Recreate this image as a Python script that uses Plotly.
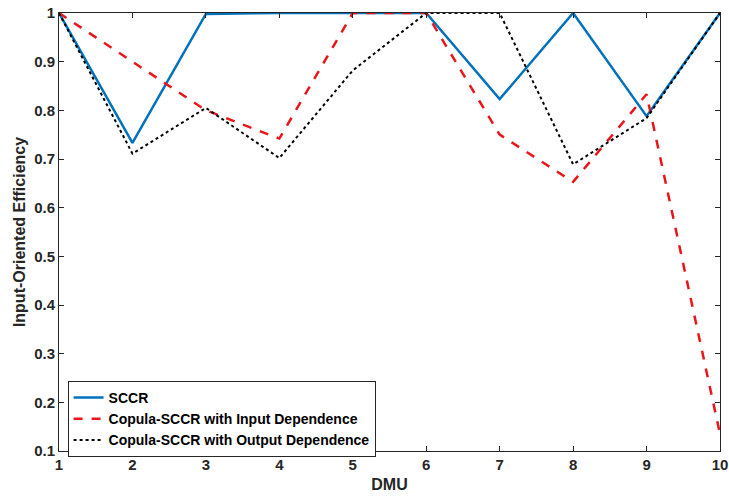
import plotly.graph_objects as go

dmu = [1, 2, 3, 4, 5, 6, 7, 8, 9, 10]
sccr = [1.0, 0.733, 0.998, 1.0, 1.0, 1.0, 0.823, 1.0, 0.788, 1.0]
copula_input = [1.0, 0.90, 0.80, 0.742, 1.0, 1.0, 0.75, 0.653, 0.833, 0.135]
copula_output = [1.0, 0.711, 0.805, 0.702, 0.882, 1.0, 1.0, 0.689, 0.784, 1.0]
y_ticks = [0.1, 0.2, 0.3, 0.4, 0.5, 0.6, 0.7, 0.8, 0.9, 1.0]
y_tick_labels = ["0.1", "0.2", "0.3", "0.4", "0.5", "0.6", "0.7", "0.8", "0.9", "1"]

font_family = "Liberation Sans, Arial, sans-serif"

fig = go.Figure()
fig.add_trace(go.Scatter(x=dmu, y=sccr, mode="lines", name="<b>SCCR</b>",
                         line=dict(color="#0072BD", width=2.5)))
fig.add_trace(go.Scatter(x=dmu, y=copula_input, mode="lines",
                         name="<b>Copula-SCCR with Input Dependence</b>",
                         line=dict(color="#E8161B", width=2.5, dash="dash")))
fig.add_trace(go.Scatter(x=dmu, y=copula_output, mode="lines",
                         name="<b>Copula-SCCR with Output Dependence</b>",
                         line=dict(color="#000000", width=2, dash="dot")))

axis_common = dict(showgrid=False, zeroline=False, showline=True, linecolor="#262626",
                   linewidth=1, mirror="ticks", ticks="inside", ticklen=5,
                   tickcolor="#262626", automargin=False, ticklabeloverflow="allow",
                   tickfont=dict(family=font_family, size=15, color="#262626"))

fig.update_layout(
    width=729, height=501,
    margin=dict(l=59, r=9, t=13, b=50),
    paper_bgcolor="white", plot_bgcolor="white",
    font=dict(family=font_family, color="#262626"),
    xaxis=dict(range=[1, 10], tickvals=dmu, ticktext=["<b>%d</b>" % d for d in dmu],
               title=dict(text="<b>DMU</b>", font=dict(family=font_family, size=16, color="#262626"), standoff=6),
               **axis_common),
    yaxis=dict(range=[0.1, 1.0], tickvals=y_ticks, ticktext=["<b>%s</b>" % t for t in y_tick_labels],
               title=dict(text="<b>Input-Oriented Efficiency</b>", font=dict(family=font_family, size=16, color="#262626"), standoff=4),
               **axis_common),
    legend=dict(x=0.013, y=0.16, xanchor="left", yanchor="top",
                bgcolor="white", bordercolor="#262626", borderwidth=1,
                font=dict(family=font_family, size=14, color="#000000"),
                tracegroupgap=0, itemwidth=30),
    showlegend=True,
)

# remove the browser's default 8px body margin so the figure fills the window
fig.write_html("out.html", config={"displayModeBar": False},
               post_script="document.body.style.margin='0';")
